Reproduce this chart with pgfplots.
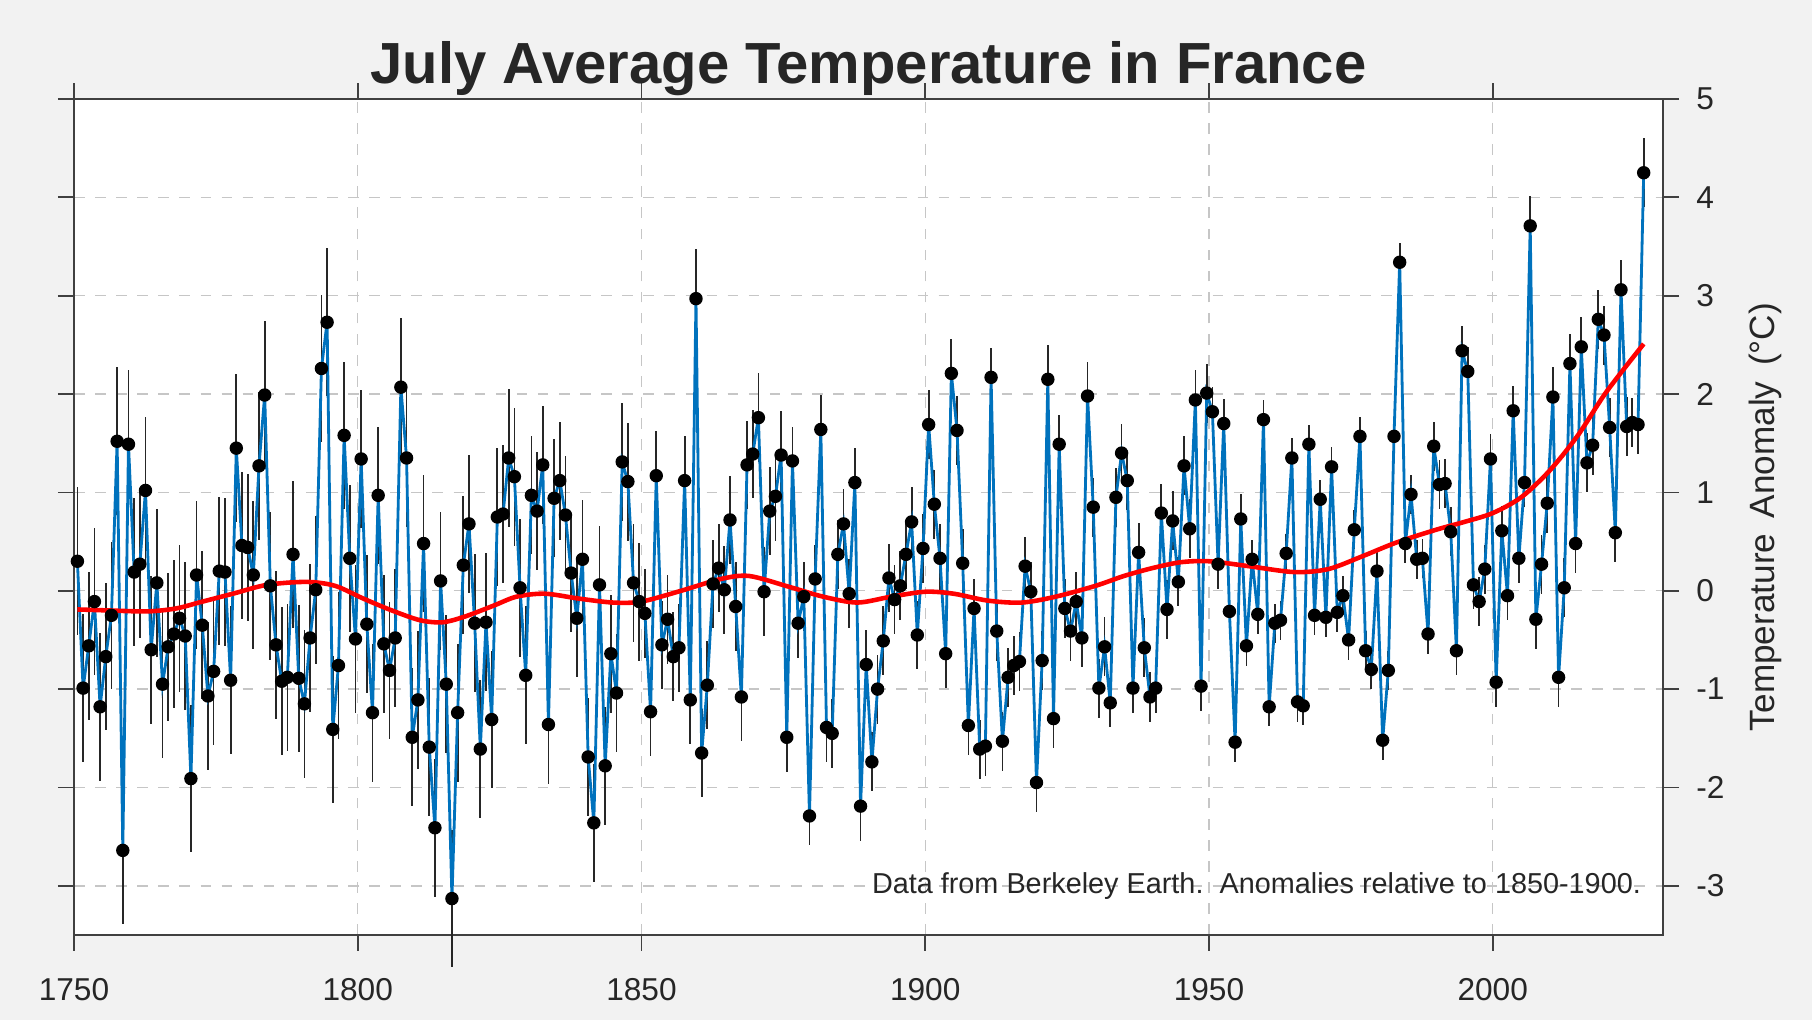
\documentclass[border=0pt]{standalone}
\usepackage{pgfplots}
\usepackage{pgfplotstable}
\pgfplotsset{compat=1.18}
\usepackage{fontspec}
\setmainfont{Liberation Sans}
\definecolor{bg}{HTML}{F2F2F2}
\definecolor{mblue}{HTML}{0072BD}
\definecolor{axgray}{HTML}{404040}
\pgfplotstableread{
year v e
1750 0.30 0.75
1751 -0.99 0.75
1752 -0.56 0.75
1753 -0.11 0.75
1754 -1.18 0.75
1755 -0.67 0.75
1756 -0.25 0.75
1757 1.52 0.75
1758 -2.64 0.75
1759 1.49 0.75
1760 0.19 0.75
1761 0.27 0.75
1762 1.02 0.75
1763 -0.60 0.75
1764 0.08 0.75
1765 -0.95 0.75
1766 -0.57 0.75
1767 -0.44 0.75
1768 -0.28 0.75
1769 -0.46 0.75
1770 -1.91 0.75
1771 0.16 0.75
1772 -0.35 0.75
1773 -1.07 0.75
1774 -0.82 0.75
1775 0.20 0.75
1776 0.19 0.75
1777 -0.91 0.75
1778 1.45 0.75
1779 0.46 0.75
1780 0.44 0.75
1781 0.16 0.75
1782 1.27 0.75
1783 1.99 0.75
1784 0.05 0.75
1785 -0.55 0.75
1786 -0.92 0.75
1787 -0.88 0.75
1788 0.37 0.75
1789 -0.89 0.75
1790 -1.15 0.75
1791 -0.48 0.75
1792 0.01 0.75
1793 2.26 0.75
1794 2.73 0.75
1795 -1.41 0.75
1796 -0.76 0.75
1797 1.58 0.75
1798 0.33 0.75
1799 -0.49 0.75
1800 1.34 0.7
1801 -0.34 0.7
1802 -1.24 0.7
1803 0.97 0.7
1804 -0.54 0.7
1805 -0.81 0.7
1806 -0.48 0.7
1807 2.07 0.7
1808 1.35 0.7
1809 -1.49 0.7
1810 -1.11 0.7
1811 0.48 0.7
1812 -1.59 0.7
1813 -2.41 0.7
1814 0.10 0.7
1815 -0.95 0.7
1816 -3.13 0.7
1817 -1.24 0.7
1818 0.26 0.7
1819 0.68 0.7
1820 -0.33 0.7
1821 -1.61 0.7
1822 -0.32 0.7
1823 -1.31 0.7
1824 0.75 0.7
1825 0.78 0.7
1826 1.35 0.7
1827 1.16 0.7
1828 0.03 0.7
1829 -0.86 0.7
1830 0.97 0.6
1831 0.81 0.6
1832 1.28 0.6
1833 -1.36 0.6
1834 0.94 0.6
1835 1.12 0.6
1836 0.77 0.6
1837 0.18 0.6
1838 -0.28 0.6
1839 0.32 0.6
1840 -1.69 0.6
1841 -2.36 0.6
1842 0.06 0.6
1843 -1.78 0.6
1844 -0.64 0.6
1845 -1.04 0.6
1846 1.31 0.6
1847 1.11 0.6
1848 0.08 0.6
1849 -0.11 0.6
1850 -0.23 0.45
1851 -1.23 0.45
1852 1.17 0.45
1853 -0.55 0.45
1854 -0.29 0.45
1855 -0.67 0.45
1856 -0.58 0.45
1857 1.12 0.45
1858 -1.11 0.45
1859 2.97 0.5
1860 -1.65 0.45
1861 -0.96 0.45
1862 0.07 0.45
1863 0.23 0.45
1864 0.01 0.45
1865 0.72 0.45
1866 -0.16 0.45
1867 -1.08 0.45
1868 1.28 0.45
1869 1.39 0.45
1870 1.76 0.45
1871 -0.01 0.45
1872 0.81 0.45
1873 0.96 0.45
1874 1.38 0.45
1875 -1.49 0.35
1876 1.32 0.35
1877 -0.33 0.35
1878 -0.06 0.35
1879 -2.29 0.3
1880 0.12 0.35
1881 1.64 0.35
1882 -1.39 0.35
1883 -1.45 0.35
1884 0.37 0.35
1885 0.68 0.35
1886 -0.03 0.35
1887 1.10 0.35
1888 -2.19 0.35
1889 -0.75 0.35
1890 -1.74 0.3
1891 -1.00 0.35
1892 -0.51 0.35
1893 0.13 0.35
1894 -0.09 0.35
1895 0.05 0.35
1896 0.37 0.35
1897 0.70 0.35
1898 -0.45 0.35
1899 0.43 0.35
1900 1.69 0.35
1901 0.88 0.35
1902 0.33 0.35
1903 -0.64 0.35
1904 2.21 0.35
1905 1.63 0.35
1906 0.28 0.35
1907 -1.37 0.3
1908 -0.18 0.3
1909 -1.61 0.3
1910 -1.58 0.3
1911 2.17 0.3
1912 -0.41 0.3
1913 -1.53 0.3
1914 -0.88 0.3
1915 -0.76 0.3
1916 -0.72 0.3
1917 0.25 0.3
1918 -0.01 0.3
1919 -1.95 0.3
1920 -0.71 0.3
1921 2.15 0.35
1922 -1.30 0.3
1923 1.49 0.3
1924 -0.18 0.3
1925 -0.41 0.3
1926 -0.11 0.3
1927 -0.48 0.3
1928 1.98 0.35
1929 0.85 0.3
1930 -0.99 0.3
1931 -0.57 0.3
1932 -1.14 0.25
1933 0.95 0.3
1934 1.40 0.3
1935 1.12 0.3
1936 -0.99 0.25
1937 0.39 0.3
1938 -0.58 0.3
1939 -1.08 0.25
1940 -0.99 0.25
1941 0.79 0.3
1942 -0.19 0.3
1943 0.71 0.3
1944 0.09 0.25
1945 1.27 0.3
1946 0.63 0.3
1947 1.94 0.3
1948 -0.97 0.25
1949 2.01 0.3
1950 1.82 0.25
1951 0.27 0.25
1952 1.70 0.25
1953 -0.21 0.25
1954 -1.54 0.2
1955 0.73 0.25
1956 -0.56 0.2
1957 0.32 0.2
1958 -0.24 0.2
1959 1.74 0.2
1960 -1.18 0.2
1961 -0.33 0.2
1962 -0.30 0.2
1963 0.38 0.2
1964 1.35 0.2
1965 -1.13 0.2
1966 -1.17 0.2
1967 1.49 0.2
1968 -0.25 0.2
1969 0.93 0.2
1970 -0.27 0.2
1971 1.26 0.2
1972 -0.22 0.2
1973 -0.05 0.2
1974 -0.50 0.2
1975 0.62 0.2
1976 1.57 0.2
1977 -0.61 0.2
1978 -0.80 0.2
1979 0.20 0.2
1980 -1.52 0.2
1981 -0.81 0.2
1982 1.57 0.2
1983 3.34 0.2
1984 0.48 0.2
1985 0.98 0.2
1986 0.32 0.2
1987 0.33 0.2
1988 -0.44 0.2
1989 1.47 0.25
1990 1.08 0.25
1991 1.09 0.25
1992 0.60 0.25
1993 -0.61 0.25
1994 2.44 0.25
1995 2.23 0.25
1996 0.06 0.25
1997 -0.11 0.25
1998 0.22 0.25
1999 1.34 0.25
2000 -0.93 0.25
2001 0.61 0.25
2002 -0.05 0.25
2003 1.83 0.25
2004 0.33 0.25
2005 1.10 0.25
2006 3.71 0.3
2007 -0.29 0.3
2008 0.27 0.3
2009 0.89 0.3
2010 1.97 0.3
2011 -0.88 0.3
2012 0.03 0.3
2013 2.31 0.3
2014 0.48 0.3
2015 2.48 0.3
2016 1.30 0.3
2017 1.48 0.3
2018 2.76 0.3
2019 2.60 0.3
2020 1.66 0.3
2021 0.59 0.3
2022 3.06 0.3
2023 1.67 0.3
2024 1.71 0.25
2025 1.69 0.3
2026 4.25 0.35
}\data
\begin{document}
\begin{tikzpicture}
\useasboundingbox[fill=bg] (-7.4mm,-8.5mm) rectangle (173.8mm,93.5mm);
\begin{axis}[
  at={(0,0)}, anchor=south west,
  scale only axis, width=158.9mm, height=83.6mm,
  xmin=1750, xmax=2030, ymin=-3.5, ymax=5,
  axis background/.style={fill=white},
  axis line style={axgray, line width=0.5pt},
  xtick={1750,1800,...,2000},
  ytick={-3,-2,...,5},
  xtick pos=both, xticklabel pos=bottom,
  ytick pos=both, yticklabel pos=right,
  tick align=outside, major tick length=1.6mm,
  tick style={axgray, line width=0.5pt},
  grid=major, major grid style={gray!45, dashed, line width=0.4pt},
  /pgf/number format/assume math mode=true,
  /pgf/number format/1000 sep={},
  ticklabel style={font=\fontsize{9}{10}\selectfont, text=black!85},
  xticklabel style={yshift=-1.5mm},
  yticklabel style={xshift=0.5mm},
  ylabel={Temperature\, Anomaly\, (°C)},
  ylabel near ticks, ylabel style={font=\fontsize{10}{12}\selectfont, text=black!85},
  clip=false,
]
\addplot[draw=none, mark=none, forget plot,
  error bars/.cd, y dir=both, y explicit, error mark=none,
  error bar style={black!85, line width=0.5pt}]
  table[x expr=\thisrow{year}+0.6, y=v, y error=e] {\data};
\addplot[mblue, line width=0.8pt, mark=none] table[x expr=\thisrow{year}+0.6, y=v] {\data};
\addplot[only marks, mark=*, mark size=0.6mm, black] table[x expr=\thisrow{year}+0.6, y=v] {\data};
\addplot[red, line width=1.3pt, smooth, mark=none] coordinates {
(1750.6,-0.19) (1756,-0.2) (1763,-0.21) (1768,-0.18) (1772,-0.12) (1778,-0.03) (1784,0.06) (1791,0.09) (1796,0.05) (1801,-0.08) (1806,-0.2) (1811,-0.30) (1815,-0.32) (1819,-0.26) (1824,-0.15) (1828,-0.06) (1833,-0.03) (1839,-0.08) (1845,-0.12) (1850,-0.11) (1857,0.0) (1864,0.12) (1869,0.15) (1876,0.04) (1882,-0.06) (1888,-0.12) (1894,-0.06) (1900,-0.01) (1905,-0.03) (1911,-0.10) (1917,-0.12) (1923,-0.06) (1930,0.05) (1935,0.15) (1940,0.23) (1945,0.29) (1950,0.30) (1957,0.25) (1965,0.19) (1971,0.22) (1977,0.35) (1983,0.49) (1990,0.62) (1995,0.70) (2000,0.79) (2005,0.95) (2010,1.22) (2015,1.58) (2020,2.02) (2026.6,2.51)};
\node[anchor=base, font=\bfseries\fontsize{16.5}{20}\selectfont, text=black!85] at ([yshift=1.6mm]rel axis cs:0.5,1) {July Average Temperature in France};
\node[anchor=base east, font=\fontsize{8.2}{9}\selectfont, text=black!85] at (axis cs:2028.3,-3.08) {Data from Berkeley Earth.\ \ Anomalies relative to 1850-1900.};
\end{axis}
\end{tikzpicture}
\end{document}
